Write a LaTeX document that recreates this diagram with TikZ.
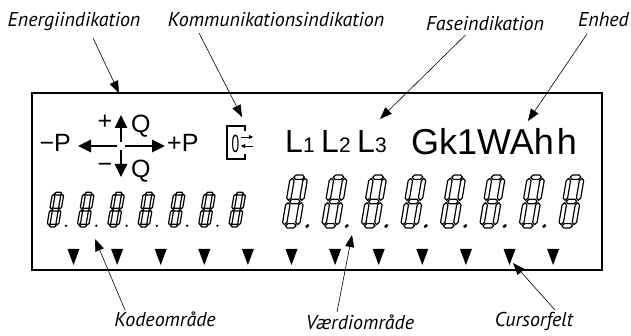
\documentclass[tikz,border=0pt]{standalone}
\usepackage{fontspec}
\setmainfont{PT Sans}
\newfontfamily\lcdfont{Liberation Sans}
\usetikzlibrary{arrows.meta}

\tikzset{
  callout/.style={font=\itshape\fontsize{20}{22}\selectfont, inner sep=0pt, anchor=base},
  leader/.style={line width=0.6pt, -{Triangle[length=12pt,width=9pt]}},
  lcd/.style={font=\lcdfont\fontsize{25}{25}\selectfont, inner sep=0pt},
  seg/.style={draw, fill=white, line width=1.2pt, line join=round},
  powarrow/.style={line width=2.6pt, -{Triangle[length=13pt,width=12pt]}},
  comarrow/.style={line width=0.8pt, -{Triangle[length=4pt,width=4pt]}},
  cursor/.style={fill=black},
}

% one segment of the display, horizontal and vertical
\newcommand{\hseg}[2]{\draw[seg] (#1-2.2,#2) -- ++(0.9,0.9) -- ++(2.6,0) -- ++(0.9,-0.9) -- ++(-0.9,-0.9) -- ++(-2.6,0) -- cycle;}
\newcommand{\vseg}[2]{\draw[seg] (#1,#2-4.5) -- ++(0.9,0.9) -- ++(0,7.2) -- ++(-0.9,0.9) -- ++(-0.9,-0.9) -- ++(0,-7.2) -- cycle;}
% digit: x, y, scale, decimal point offset in tenths (0 = none)
\newcommand{\lcddigit}[4]{%
  \begin{scope}[shift={(#1,#2)}, xslant=0.17, scale=#3]
    \hseg{2.7}{0}\hseg{2.7}{10}\hseg{2.7}{20}
    \vseg{0}{5}\vseg{5.4}{5}\vseg{0}{15}\vseg{5.4}{15}
    \ifnum#4>0 \fill ({#4/10},-0.1) circle (0.8);\fi
  \end{scope}}

\begin{document}
\begin{tikzpicture}[x=1pt,y=1pt]
\useasboundingbox (0,0) rectangle (631,336);
% display frame
\draw[line width=1.4pt] (32,66) rectangle (602,243);
% energy indication
\coordinate (ecross) at (121,190);
\draw[powarrow] ([xshift=-4pt]ecross) -- ([xshift=-43pt]ecross);
\draw[powarrow] ([xshift=4pt]ecross) -- ([xshift=44pt]ecross);
\draw[powarrow] ([yshift=4pt]ecross) -- ([yshift=31pt]ecross);
\draw[powarrow] ([yshift=-4pt]ecross) -- ([yshift=-31pt]ecross);
\node[lcd, anchor=base east] (mP) at (71,184) {−P};
\node[lcd, anchor=base west] (pP) at (167,184) {+P};
\node[lcd] (pQsign) at (105,214) {+};
\node[lcd, anchor=base west] (pQ) at (131,203) {Q};
\node[lcd] (mQsign) at (105,168) {−};
\node[lcd, anchor=base west] (mQ) at (131,158) {Q};
% communication
\draw[line width=1.1pt] (245,205) -- (245,210) -- (227,210) -- (227,177) -- (245,177) -- (245,182);
\node[lcd, font=\lcdfont\fontsize{25}{25}\selectfont] (comZero) at (235.5,192) {\scalebox{0.55}[1]{0}};
\draw[comarrow] (241,199) -- (253,199);
\draw[comarrow] (253,190) -- (241,190);
% phases and unit
\foreach \i/\px in {1/285,2/321,3/357}
  \node[lcd, anchor=base west, font=\lcdfont\fontsize{32}{32}\selectfont] (L\i) at (\px,183) {L{\fontsize{21}{21}\selectfont\i}};
\node[lcd, anchor=base west, font=\lcdfont\fontsize{36}{36}\selectfont] (unit) at (411,181) {Gk1WAh\hspace{3pt}h};
% code and value digits
\foreach \k in {0,...,6} {
  \ifnum\k<6 \lcddigit{48.4+30.3*\k}{110.4}{1.6}{110}\else \lcddigit{48.4+30.3*\k}{110.4}{1.6}{0}\fi
}
\foreach \k in {0,...,7} {
  \ifnum\k<7 \lcddigit{284.2+39.5*\k}{110.2}{2.43}{95}\else \lcddigit{284.2+39.5*\k}{110.2}{2.43}{0}\fi
}
% cursors
\foreach \i in {0,...,11}
  \fill[cursor] ({67.5+43.6*\i},87) -- ++(12,0) -- ++(-6,-16) -- cycle;
% labels
\node[callout] (energyLbl) at (74,309) {Energiindikation};
\node[callout] (commLbl) at (276,309) {Kommunikationsindikation};
\node[callout] (phaseLbl) at (485,305) {Faseindikation};
\node[callout, anchor=base east] (unitLbl) at (629,309) {Enhed};
\node[callout] (codeLbl) at (165,9) {Kodeområde};
\node[callout] (valueLbl) at (360,6) {Værdiområde};
\node[callout] (cursorLbl) at (534,9) {Cursorfelt};
% leaders
\coordinate (energyTip) at (119,243);
\coordinate (commTip) at (242,219);
\coordinate (phaseTip) at (380,217);
\coordinate (unitTip) at (528,215);
\coordinate (codeTip) at (95,97);
\coordinate (valueTip) at (352,101);
\coordinate (cursorTip) at (513,73);
\draw[leader] ([xshift=19pt,yshift=-11pt]energyLbl.base) -- (energyTip);
\draw[leader] ([xshift=-77pt,yshift=-6pt]commLbl.base) -- (commTip);
\draw[leader] ([xshift=-19.5pt,yshift=-4pt]phaseLbl.base) -- (phaseTip);
\draw[leader] ([xshift=-42pt,yshift=-7pt]unitLbl.base east) -- (unitTip);
\draw[leader] ([xshift=-40pt,yshift=17pt]codeLbl.base) -- (codeTip);
\draw[leader] ([xshift=-23pt,yshift=18pt]valueLbl.base) -- (valueTip);
\draw[leader] ([xshift=21pt,yshift=17pt]cursorLbl.base) -- (cursorTip);
\end{tikzpicture}
\end{document}
